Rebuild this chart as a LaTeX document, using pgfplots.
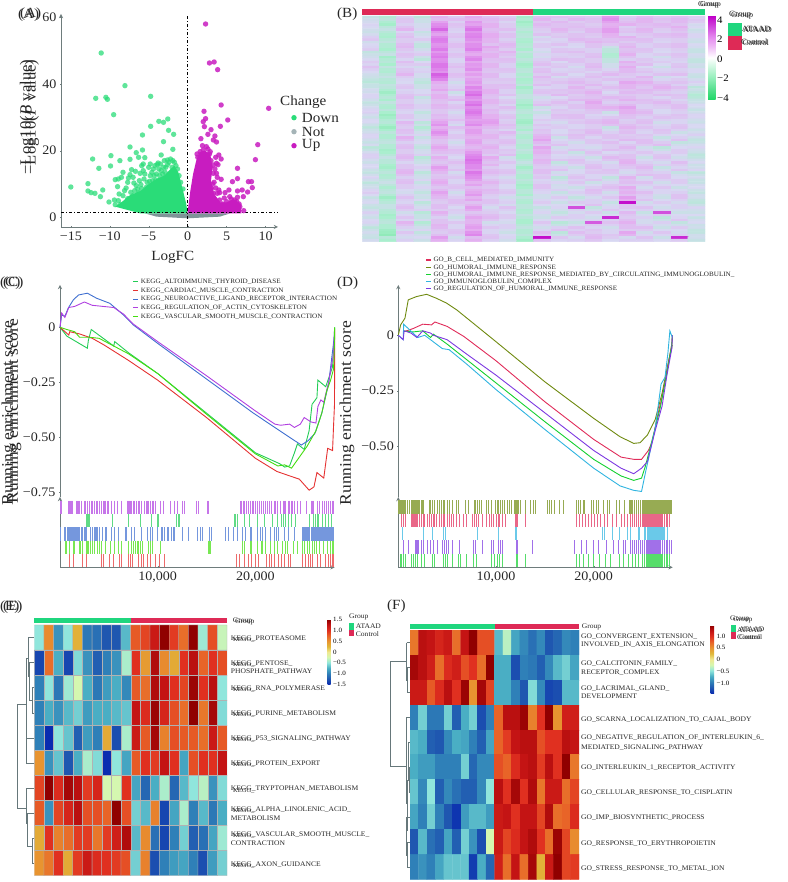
\documentclass[border=0pt]{standalone}
\usepackage{fontspec}
\setmainfont[FakeStretch=1.08]{Liberation Serif}
\usepackage{pgfplots}
\pgfplotsset{compat=1.18}
\newcommand\fs[1]{\fontsize{#1}{#1}\selectfont}
\definecolor{vgreen}{HTML}{2ADC78}
\definecolor{vmag}{HTML}{C81CC0}
\definecolor{vgrey}{HTML}{7F9498}
\definecolor{annG}{HTML}{1FD67E}
\definecolor{annR}{HTML}{DE2A56}
\definecolor{axgrey}{HTML}{6E7C7C}
\definecolor{gridc}{HTML}{DCE7EA}
\definecolor{dend}{HTML}{66777A}
\definecolor{cGr}{HTML}{22CC55}
\definecolor{cRd}{HTML}{E53232}
\definecolor{cBl}{HTML}{3F6FD0}
\definecolor{cPu}{HTML}{B040E0}
\definecolor{cYg}{HTML}{44DD10}
\definecolor{dOl}{HTML}{6F8A10}
\definecolor{dRd}{HTML}{E02C5A}
\definecolor{dGr}{HTML}{14D030}
\definecolor{dCy}{HTML}{30B4E0}
\definecolor{dPu}{HTML}{7C38E0}
\pgfplotsset{
 colormap={hot}{rgb255=(10,44,176) rgb255=(31,87,176) rgb255=(47,128,184) rgb255=(74,174,196) rgb255=(144,230,220) rgb255=(213,247,176) rgb255=(240,232,144) rgb255=(224,184,58) rgb255=(232,148,48) rgb255=(232,100,40) rgb255=(224,48,32) rgb255=(196,20,20) rgb255=(144,0,0)},
 colormap={bcell}{rgb255=(32,216,104) rgb255=(80,224,136) rgb255=(120,230,164) rgb255=(170,238,206) rgb255=(216,216,242) rgb255=(228,172,240) rgb255=(220,124,234) rgb255=(206,70,218) rgb255=(192,0,200)},
 colormap={bbar}{rgb255=(32,216,104) rgb255=(88,224,144) rgb255=(144,238,184) rgb255=(200,246,220) rgb255=(255,255,255) rgb255=(240,192,246) rgb255=(228,136,238) rgb255=(208,72,220) rgb255=(192,0,200)},
 pan/.style={scale only axis,anchor=south west,axis line style={-,draw=axgrey,line width=.9pt},
   tick style={draw=axgrey},tick align=outside,major tick length=2pt,
   ticklabel style={font=\fs{13},text=black!85},clip=false},
 heat/.style={scale only axis,anchor=south west,hide axis,y dir=reverse,xmin=-.5,xmax=19.5,ymin=-.5},
 cb/.style={scale only axis,anchor=south west,hide axis,xmin=0,xmax=1,ymin=0,ymax=1,colorbar},
}
\newcount\gcx \newcount\gcy
\newcommand\gridcoords[2]{\gcx=0 \gcy=0 \def\gc{}%
 \pgfplotsforeachungrouped \v in {#2}{\edef\gc{\gc(\the\gcx,\the\gcy)[\v]}\advance\gcx by 1 \ifnum\gcx=#1 \gcx=0 \advance\gcy by 1 \fi}}
\newcommand\rug[3]{\def\gc{}\pgfplotsforeachungrouped \v in {#3}{\edef\gc{\gc(\v,#2)}}%
 \edef\tmp{\noexpand\addplot[only marks,mark=|,mark size=6.7pt,mark options={draw=#1!72!white,line width=.85pt}] coordinates {\gc};}\tmp}
\newcommand\dn[1]{\addplot[dend,line width=.6pt] coordinates {#1};}
\newcommand\el[2]{\node[lab,font=\fs{7}] at (230.7,#1) {#2};}
\newcommand\ek[1]{\node[lab,font=\fs{6}] at (233,#1) {KEGG\_};}
\newcommand\fl[2]{\node[lab,font=\fs{7}] at (581,#1) {#2};}
\tikzset{lab/.style={anchor=west,inner sep=0pt,text=black!85},mid/.style={anchor=center,inner sep=0pt,text=black!85}}
\begin{document}
\begin{tikzpicture}
\useasboundingbox (0,0) rectangle (787pt,882pt);

% (A) volcano
\begin{axis}[pan,at={(61pt,655pt)},width=217pt,height=213pt,xmin=-16.26,xmax=11.6,ymin=-2.9,ymax=61,
  axis x line=bottom,axis y line=left,
  xtick={-15,-10,-5,0,5,10},xticklabels={−15,−10,−5,0,5,10},
  ytick={0,20,40,60},yticklabels={0,20,40,60}]
\addplot[fill=vgrey,draw=none] coordinates {(-5.5,1.2)(-4,.2)(0,-.3)(4.15,.2)(5.45,1.2)} --cycle;
\addplot[fill=vgreen,draw=none] coordinates {(0,1.2)(-6.1,1.2)(-9.3,3.2)(-8.5,4.5)(-7.5,6.5)(-6,8)(-5,10)(-4,11.5)(-3,12.5)(-2.2,14.5)(-1.7,15.5)(-1.2,13.5)(-.65,8.5)(-.2,4.2)} --cycle;
\addplot[fill=vmag,draw=none] coordinates {(0,1.7)(.35,8)(.7,13)(1.1,17)(1.5,19.5)(2.2,20)(2.9,19)(3.2,15)(3,11)(3.4,7)(4.2,4.5)(5,4.5)(5.9,5.5)(6.8,4)(6.9,1.2)(0,1.2)} --cycle;
\addplot[vgreen,only marks,mark=*,mark size=2.7pt,mark options={draw opacity=0,fill=vgreen,fill opacity=.75}] coordinates {
(-11.1,49.3)(-8.05,39.5)(-11.8,35.7)(-10.5,36)(-10.3,35.4)(-4.75,36.3)(-9.5,30.8)(-2.55,29.5)(-3.7,28.8)(-3.1,28.5)(-4.75,27.3)(-2.45,26.1)(-5.8,24.7)(-1.8,24.9)(-3.1,22.7)(-7.4,21.1)(-5.8,20.2)(-1.9,20.4)(-6.6,19.4)(-12.2,17.5)(-9.85,18.5)(-8.7,17)(-7.4,17.4)(-5.5,17.9)(-6.3,18)(-3.4,18.7)
(-8.9,11.5)(-8.3,13.5)(-7.7,10.5)(-7,12)(-6.6,9.5)(-6.2,11)(-5.5,13)(-5.2,10.5)(-5,15)(-4.8,12.5)(-4.5,11)(-4.2,15.5)(-4,13)(-3.7,14.5)(-3.5,16)(-3.2,13)(-3,17)(-2.8,15)(-2.4,16.5)(-1.9,17)(-1.5,15.5)(-6.8,8)(-7.3,7.5)(-8.3,6.5)(-7.9,8.8)(-5.7,16)(-5.9,15.5)(-6.7,13.8)(-7.2,14.3)(-8.5,12)(-9.3,11.3)(-9,9.2)(-8.8,7)(-9.4,5.2)(-10.1,4.6)(-10.9,8.2)(-11.2,6.2)(-11.9,7.2)(-12.4,7.4)(-12.8,7.9)(-12.8,10.1)(-15,9.1)(-11.4,14.7)(-9.9,15.4)(-6.5,5)(-4.4,9.8)(-3.8,8.5)(-3.3,10.5)(-2.3,11.5)(-5.9,8.6)
(-6.9,10.3)(-6.4,8.5)(-6,9.8)(-5.6,11.5)(-5.3,9)(-4.9,10.8)(-4.6,13.5)(-4.3,12.5)(-4.1,11.2)(-3.9,15.8)(-3.6,12.5)(-3.4,14)(-3.1,15)(-2.9,13.5)(-2.6,15.8)(-2.2,17.5)(-2,15)(-1.7,16.5)(-1.3,14.5)(-7.6,11.8)(-6.1,13.2)(-5.7,14)(-8.1,8)(-7,6.5)(-8.9,5)(-9.3,3.8)(-4.8,16)(-4.4,14.5)(-3,11.8)(-5,7.8)(-5.9,6.9)(-6.3,7.3)(-7.7,5.6)(-8.6,3.9)(-7.4,12.8)(-3.8,16.3)(-2.6,17.2)(-1.1,12.5)(-.9,10.5)(-.6,8.5)};
\addplot[vmag,only marks,mark=*,mark size=2.7pt,mark options={draw opacity=0,fill=vmag,fill opacity=.85}] coordinates {
(2.3,58)(2.8,46.3)(3.4,46.6)(3.85,44.3)(4.3,33.7)(10.4,32.7)(2.1,31.8)(5.15,29.2)(2.3,29.6)(2,28.7)(2.15,27.2)(4.2,27.3)(3,26.3)(2.6,24.9)(3.5,24.4)(1.7,23.6)(3.3,23.2)(3.7,22.6)(9,21.8)(2.4,21.2)(2,20.2)(1.6,19.7)(2.9,19.7)(4,18.7)(4.3,17.5)(8.7,17.3)(6.4,14.7)(3.3,15.7)(3.7,16.2)(3.3,13.2)(3.7,13.2)(4.3,11.4)(5.75,10.7)(6.4,11.6)(7.8,10.7)(8.2,10.7)(8.3,8.9)(7,8.2)(7.7,7.6)(6.4,7.9)(5.3,8.2)(4.8,7.4)(7.15,6.2)(4,8.2)(3.8,7.2)(3.3,7.2)(5.4,6.2)(6,5.2)(5,4.7)(4.1,5.2)(3.3,5.2)(3.2,10)(2.9,15)(2.5,11)(3.05,8.7)(2.8,19)(1.2,19)(6.4,6)(6.6,4)(5.7,3.5)(4.5,4)
(1.5,15)(2,18)(2.6,20.5)(3.6,18)(3.9,15.8)(3.4,10.5)(3.6,8.8)(4.1,7.4)(4.7,5.8)(5.6,5.5)(6.3,4.7)(6.7,3.2)(5.2,3.5)(4.4,3)(7.2,2)(3.8,12)(3.5,14.5)(3,17)(1.9,21.5)(1.3,18)};
\addplot[black,line width=1pt,dash dot] coordinates {(0,-2.9)(0,61)};
\addplot[black,line width=1pt,dash dot] coordinates {(-16.26,1.3)(11.6,1.3)};
\end{axis}

% (B) heatmap
\gridcoords{20}{
-4,-8,2,-6,8,3,10,5,2,-11,6,5,4,3,14,2,6,3,5,2,
-2,-6,4,-3,6,6,8,7,4,-9,8,3,7,5,16,4,8,5,7,4,
-1,-9,4,-3,12,2,14,6,1,-12,4,7,3,5,12,6,8,4,7,3,
1,-11,2,-1,16,5,12,9,3,-10,7,5,5,3,9,9,6,7,5,-1,
0,-6,5,-1,18,4,17,9,3,-8,5,5,6,4,10,2,5,6,9,0,
-2,-4,8,1,24,2,21,6,6,-6,3,8,4,7,13,4,8,3,6,-3,
-3,-7,1,-4,15,1,15,7,2,-9,2,6,2,7,13,5,7,2,4,-2,
-1,-9,4,-2,12,4,18,10,5,-7,5,3,5,4,9,2,4,6,7,1,
2,-10,6,0,17,5,19,10,5,-6,-1,4,5,3,8,9,3,5,6,1,
4,-7,3,3,20,2,16,8,2,-9,2,1,7,6,5,6,6,2,3,-2,
-2,-5,3,-2,19,3,13,8,4,-10,0,2,4,8,6,3,5,1,3,-3,
0,-8,6,-5,15,6,16,5,7,-8,3,5,1,5,3,6,2,4,6,0,
1,-8,7,-5,16,6,16,11,6,-7,3,1,0,5,-3,8,2,4,6,-1,
3,-10,4,-2,20,3,19,8,3,-10,0,4,3,2,-6,5,5,1,3,-4,
-5,-6,2,1,14,2,12,6,8,-5,-2,5,6,2,-6,6,4,0,2,-4,
-3,-4,5,3,18,5,10,9,5,-8,1,2,3,5,-9,9,1,3,5,-1,
-2,-11,4,-3,20,4,15,9,3,-9,-1,3,2,6,-8,5,1,-2,4,-2,
0,-8,1,-6,16,1,18,6,6,-6,2,6,5,3,-5,2,4,1,2,-5,
3,-7,6,0,17,1,11,5,5,-8,4,0,5,3,-5,9,3,3,1,-5,
1,-10,3,3,21,4,14,8,2,-11,6,3,2,6,-2,6,6,0,4,-2,
5,-5,1,-2,21,6,13,8,2,-10,2,4,-1,7,-2,10,0,-3,5,-3,
2,-8,4,1,18,3,16,5,5,-7,5,1,2,4,1,7,3,1,2,0,
0,-9,5,2,15,3,10,4,4,-6,6,2,3,1,4,7,5,2,3,0,
-2,-6,8,-1,25,6,13,7,1,-9,3,5,0,4,7,4,2,5,6,-3,
-3,-4,3,-1,22,5,9,7,1,-7,7,-1,2,6,2,3,8,-2,0,-4,
-5,-7,1,-4,18,2,12,4,4,-10,4,3,5,3,5,6,5,1,3,-1,
-7,-8,0,-6,10,-2,14,3,3,-9,3,5,7,4,1,11,9,4,5,2,
-4,-5,3,-3,7,1,11,6,6,-6,6,2,4,7,3,8,6,7,2,-1,
-4,-6,4,-3,8,2,18,6,5,-11,1,2,8,3,6,8,4,9,6,-6,
-1,-9,1,0,11,5,15,9,2,-8,4,5,5,6,3,5,7,6,3,-3,
-2,-12,2,0,6,-3,20,9,2,-8,5,4,6,9,0,7,6,3,2,-5,
1,-9,5,3,9,0,23,6,5,-5,2,7,3,6,3,4,3,6,5,-8,
1,-7,6,-4,9,4,17,5,0,-5,-2,0,4,5,7,6,3,1,4,-7,
-2,-10,3,-1,6,7,14,8,3,-8,1,3,7,8,4,9,6,4,1,-4,
-5,-5,3,-1,5,1,19,8,4,-9,3,6,2,11,2,4,5,7,3,-3,
-3,-8,6,2,8,4,22,5,1,-12,6,3,5,8,5,7,2,4,6,0,
-1,-9,5,2,7,5,16,4,6,-10,-3,1,5,8,9,12,2,3,6,-1,
1,-6,2,-1,4,2,19,7,3,-7,0,4,2,5,6,9,5,0,3,-4,
2,-10,1,-5,4,-1,21,6,1,-6,-4,3,3,4,-3,9,7,0,2,-2,
-1,-13,4,-2,7,2,18,9,4,-9,-1,6,6,1,0,6,4,3,5,1,
-3,-11,4,-2,6,3,15,9,5,-8,0,5,6,2,4,5,2,5,4,1,
0,-8,1,1,9,6,12,12,2,-11,3,2,3,5,7,2,5,2,1,-2,
0,-7,7,-6,12,2,14,13,3,-12,1,-1,4,6,8,3,6,-2,1,-3,
-3,-10,4,-3,15,-1,17,10,6,-9,4,2,1,3,5,6,3,1,4,0,
-6,-13,3,-8,9,6,10,7,4,-7,2,3,1,3,-4,8,5,2,5,0,
-3,-10,6,-5,12,3,13,4,1,-10,5,0,4,6,-1,5,2,5,2,-3,
-2,-6,5,-2,16,1,13,5,7,-5,4,0,3,7,2,6,1,4,-3,-1,
1,-9,2,1,13,4,10,8,4,-8,7,3,6,4,5,3,4,1,0,2,
1,-9,9,-4,8,4,8,8,2,-9,9,-3,5,1,5,4,3,-4,2,-2,
-2,-6,6,-1,5,1,11,5,5,-6,12,0,2,4,2,7,6,-1,5,-5,
-4,-5,2,0,5,-2,12,4,6,-6,7,2,-2,4,6,1,6,3,-5,-4,
-1,-8,5,-3,8,1,9,7,3,-9,4,5,1,1,3,4,3,6,-2,-1,
-7,-8,6,-5,11,3,7,9,1,-8,11,-2,1,-1,3,7,-2,-6,0,1,
-4,-11,3,-2,8,6,10,6,4,-5,8,1,4,2,6,4,1,-3,3,-2,
-1,-10,3,-1,6,5,14,6,3,-7,9,3,-4,5,0,2,4,1,3,-3,
2,-7,6,2,3,2,17,3,6,-10,6,0,-1,2,3,5,1,4,0,-6,
2,-4,7,-7,9,0,19,10,-2,-10,5,1,2,-3,7,5,-3,5,-2,-5,
-1,-7,4,-4,6,3,22,7,1,-7,8,4,5,0,4,8,0,2,1,-2,
-3,-7,1,-3,4,6,20,5,4,-4,7,-5,4,2,-1,9,2,-1,6,0,
0,-10,4,0,7,3,17,8,1,-7,4,-2,1,5,2,6,5,2,3,-3,
0,-11,4,2,13,2,17,3,1,-11,3,2,-3,6,2,4,7,-4,1,-2,
-3,-8,7,-1,10,5,14,6,4,-8,6,5,0,3,5,1,4,-1,4,1,
-5,-6,8,-6,7,-1,21,7,5,-6,6,-2,0,4,4,-1,3,2,-4,-6,
-2,-9,5,-3,4,2,18,4,2,-9,3,1,3,1,1,2,6,5,-1,-3,
1,-8,2,-2,5,4,16,2,-1,-9,4,-6,5,1,-5,8,-2,5,0,-1,
-2,-5,5,1,8,1,13,5,2,-6,1,-3,2,4,-2,5,1,2,3,-4,
-6,-3,6,-4,10,1,9,8,3,-8,2,1,4,-3,1,6,5,-2,3,-4,
-3,-6,3,-1,7,4,12,5,0,-11,5,-2,1,0,4,3,2,1,0,-1,
-2,-9,3,1,4,5,6,4,0,-10,5,-1,-3,3,6,10,-1,4,-3,0,
1,-6,0,-2,7,2,9,7,3,-7,2,2,0,6,3,7,2,1,0,-3,
3,-5,-1,-5,12,-2,11,6,4,-7,1,-4,2,5,-2,9,6,1,2,-5,
0,-8,2,-2,9,1,14,3,1,-10,-2,-1,-1,2,1,6,3,-2,5,-2,
-4,-12,5,-3,7,3,8,2,-2,-5,-2,3,-5,-1,4,13,2,-3,5,-2,
-1,-9,2,0,4,6,11,5,1,-8,1,0,-2,2,1,10,5,0,2,-5,
0,-7,1,-6,3,6,5,5,2,-9,3,-3,3,2,-4,38,-2,3,-1,-6,
-3,-4,4,-3,6,3,8,2,-1,-6,0,0,0,5,-1,4,1,0,2,-3,
-5,-4,6,-1,6,0,13,-1,5,-6,-4,1,28,-5,1,4,5,-2,2,1,
-2,-7,3,2,3,3,10,2,2,-9,-1,-2,2,-2,4,1,2,1,-1,-2,
2,-8,-2,-7,9,2,4,3,0,-8,1,-5,-1,3,-3,7,-4,28,-3,-3,
-1,-11,1,-4,6,-1,7,6,3,-5,-2,-2,2,0,0,4,-1,3,0,0,
-3,-10,4,-4,2,-3,11,7,3,-7,-3,3,2,-2,34,3,2,-6,1,-4,
0,-7,1,-1,5,0,8,4,0,-10,0,0,-1,1,2,6,-1,-3,4,-1,
1,-6,8,-8,5,4,8,-2,-1,-10,4,-7,-4,26,5,9,-1,2,-5,0,
-2,-9,5,-5,8,1,11,1,2,-7,1,-4,-1,3,2,6,2,-1,-2,-3,
-6,-9,2,-2,7,1,13,4,2,-5,-2,2,5,1,-2,6,6,-3,3,-2,
-3,-12,-1,1,4,4,10,1,-1,-8,1,5,2,4,1,3,3,0,0,-5,
-1,-13,4,-5,3,5,15,1,-3,-8,6,-6,6,3,1,11,-2,4,-1,-5,
-3,-15,1,-2,6,2,18,4,0,-6,3,-3,3,6,4,8,1,1,2,-2,
-4,-7,-1,0,13,-2,6,5,1,-9,38,4,-1,7,3,-1,5,-3,34,-2,
-1,-10,2,-3,9,1,9,2,-2,-12,5,1,2,4,0,2,2,0,3,-4}
\begin{axis}[heat,at={(362.3pt,640.3pt)},width=342.7pt,height=225.7pt,ymax=89.5,colormap name=bcell,point meta min=-40,point meta max=40]
\edef\tmp{\noexpand\addplot[matrix plot*,mesh/cols=20,point meta=explicit] coordinates {\gc};}\tmp
\end{axis}
\begin{axis}[cb,at={(708pt,782.7pt)},width=7.7pt,height=83.3pt,colormap name=bbar,point meta min=-4.13,point meta max=4.43,
  colorbar style={at={(0,0)},anchor=south west,width=7.7pt,height=83.3pt,ytick={-4,-2,0,2,4},yticklabels={−4,−2,0,2,4},
  axis line style={draw=none},tick style={draw=none},yticklabel style={font=\fs{10},xshift=-2pt}}]
\addplot[draw=none] coordinates {(0,0)(1,1)};
\end{axis}

% (C) GSEA
\begin{axis}[pan,at={(60pt,385pt)},width=274.7pt,height=212pt,xmin=0,xmax=28.12,ymin=-.771,ymax=.1923,
  axis x line=none,axis y line=left,xtick={5,10,15,20,25},xmajorgrids,grid style={gridc,line width=.6pt},
  ytick={-.75,-.5,-.25,0},yticklabels={−0.75,−0.50,−0.25,0}]
\addplot[cGr,line width=.9pt] coordinates {(0,0)(.7,-.04)(2.8,-.095)(2.9,-.06)(3.2,-.01)(5.5,-.085)(5.6,-.065)(7,-.115)(10,-.21)(15,-.39)(20,-.57)(21.5,-.6)(22.5,-.62)(23,-.635)(23.5,-.63)(24,-.57)(24.3,-.53)(25,-.555)(25.5,-.47)(25.8,-.35)(26.3,-.32)(26.4,-.24)(27.2,-.27)(27.9,-.18)(28.12,0)};
\addplot[cRd,line width=.9pt] coordinates {(0,0)(.9,-.035)(1,-.02)(2,-.03)(3.3,-.05)(4.5,-.08)(7,-.15)(10,-.24)(15,-.41)(20,-.595)(22.2,-.655)(23.5,-.675)(24.5,-.69)(25.5,-.74)(26,-.725)(26.3,-.66)(27,-.685)(27.4,-.55)(27.9,-.56)(28,-.45)(28.1,-.35)(28.12,-.01)};
\addplot[cBl,line width=.9pt] coordinates {(0,0)(.17,.056)(.5,.05)(.85,.088)(1.37,.125)(1.9,.147)(2.8,.155)(3.75,.132)(5.1,.109)(6.5,.056)(7.5,.011)(10,-.073)(15,-.235)(19.8,-.39)(22.9,-.482)(24.7,-.535)(25.4,-.515)(26.1,-.482)(26.8,-.39)(27.5,-.255)(28.1,-.035)};
\addplot[cPu,line width=.9pt] coordinates {(0,0)(.17,.065)(.5,.045)(.9,.09)(1.5,.095)(2.5,.115)(3.3,.1)(5.5,.09)(6.5,.06)(7.5,.015)(10,-.065)(15,-.22)(20,-.38)(22,-.44)(22.6,-.445)(23.5,-.44)(24,-.455)(24.6,-.44)(25,-.41)(25.7,-.43)(26.2,-.435)(26.4,-.36)(26.7,-.33)(27,-.34)(27.5,-.25)(28,-.12)(28.1,-.01)};
\addplot[cYg,line width=.9pt] coordinates {(0,0)(.7,-.01)(1.5,-.02)(2,-.045)(3,-.045)(4,-.05)(5.5,-.085)(7,-.12)(10,-.21)(15,-.395)(20,-.575)(22.3,-.63)(23,-.625)(23.7,-.64)(24.5,-.59)(25.3,-.54)(26.2,-.47)(26.8,-.39)(27.3,-.29)(27.7,-.24)(28,-.19)(28.1,-.07)(28.12,0)};
\end{axis}
\begin{axis}[pan,at={(60pt,314.7pt)},width=274.7pt,height=70.3pt,xmin=0,xmax=28.12,ymin=0,ymax=5.28,
  axis x line=bottom,axis y line=left,ytick=\empty,xtick={10,20},xticklabels={{10,000},{20,000}}]
\rug{cPu}{4.5}{0,.1,.85,.95,1.05,1.15,1.3,1.65,1.75,1.85,2.0,2.2,2.5,2.6,2.85,3.05,3.2,3.35,3.5,3.7,3.85,4,4.2,4.4,4.55,4.7,4.85,5,5.3,5.6,5.9,6.3,6.9,7.0,7.1,7.2,7.3,7.5,7.65,7.8,8,8.15,8.3,8.6,8.8,8.95,9.1,9.3,9.45,9.6,9.75,10.3,10.6,11.3,11.7,12,12.5,12.7,14,14.2,15.1,15.2,18.5,18.6,18.8,18.9,19.1,19.3,19.5,19.7,19.85,20,20.2,20.4,20.6,20.8,21,21.2,21.4,21.6,21.9,22.1,22.3,22.6,22.9,23,23.1,23.4,23.5,23.7,23.8,24,24.3,24.6,25.2,25.7,25.8,25.95,26.3,26.6,26.9,27.1,27.3,27.5,27.7,27.9,28}
\rug{cGr}{3.5}{2.7,2.8,2.9,3.0,5.4,7.0,8.2,9.4,10.0,10.1,11.9,12.1,12.2,17.9,18,18.2,18.9,19.4,20.2,20.9,21.7,22.3,22.7,22.9,23.1,23.4,23.7,24.1,25.5,25.9,26.1,26.3,26.5,26.9,27.2,27.5,27.8}
\rug{cBl}{2.5}{0,.05,.5,.6,.75,.85,.95,1.05,1.15,1.3,1.4,1.5,1.6,1.7,1.8,1.9,2,2.15,2.3,2.45,2.6,2.75,3.1,3.3,3.5,3.6,3.7,3.85,4,4.3,4.6,4.8,5.3,5.55,6,6.7,6.85,7.3,7.6,8.3,8.9,9.3,9.5,10,10.4,10.5,10.7,11,11.1,11.4,11.6,11.75,12.5,13.1,14.1,14.4,14.6,15.3,15.45,16.9,17.2,17.8,18.2,18.7,19,19.5,19.6,20.2,20.5,20.7,21,21.5,21.9,22.2,22.4,23,23.4,24,24.8,24.9,25,25.1,25.2,25.3,25.45,25.55,25.7,25.8,25.9,26,26.1,26.2,26.3,26.4,26.5,26.6,26.7,26.8,26.9,27,27.1,27.2,27.3,27.4,27.5,27.6,27.7,27.8,27.9,28}
\rug{cYg}{1.5}{.6,.65,1.0,1.4,1.5,2.0,2.1,2.3,2.7,2.75,2.8,2.9,3.1,3.3,3.5,3.8,4.0,4.2,4.6,5.2,5.6,6.0,6.3,7,7.3,7.5,7.7,7.9,8,8.2,8.4,9.1,9.3,9.5,10.3,15.2,15.3,15.4,18.7,18.9,19.5,19.6,20.2,20.6,20.7,21,21.5,22,22.3,22.8,23.1,23.3,23.9,24.3,24.8,25,25.3,25.5,25.8,26,26.2,26.6,27,27.4,27.7,27.9,28}
\rug{cRd}{.5}{.95,1.4,2.3,2.7,4.2,4.4,5.1,5.5,6.1,6.3,7.0,7.2,7.4,8.0,8.3,8.5,8.9,9.0,9.3,9.8,10.2,10.7,18.1,18.4,18.9,19.3,19.6,20,20.3,21.1,21.4,21.6,22,22.4,22.7,23,23.4,23.6,24.8,25.1,25.4,25.6,25.8,26.3,26.7,27.2,27.5,27.7,27.9,28}
\end{axis}

% (D) GSEA
\begin{axis}[pan,at={(398.3pt,385pt)},width=274.4pt,height=212pt,xmin=0,xmax=28.09,ymin=-.73,ymax=.227,
  axis x line=none,axis y line=left,xtick={5,10,15,20,25},xmajorgrids,grid style={gridc,line width=.6pt},
  ytick={-.5,-.25,0},yticklabels={−0.50,−0.25,0}]
\addplot[dOl,line width=.9pt] coordinates {(0,0)(.24,.047)(.68,.077)(1.02,.16)(1.88,.175)(2.9,.185)(3.9,.167)(4.95,.145)(6,.114)(10,-.029)(15,-.21)(20,-.375)(22.7,-.458)(24.1,-.488)(24.75,-.485)(25.5,-.45)(26.3,-.38)(27,-.262)(27.7,-.11)(28.05,-.044)};
\addplot[dRd,line width=.9pt] coordinates {(.5,.015)(1.5,.03)(2.5,.05)(3.4,.047)(3.75,.06)(5,.04)(6.7,-.005)(10,-.115)(15,-.3)(20,-.47)(22.8,-.55)(24.1,-.56)(24.9,-.56)(25.6,-.52)(26,-.48)(26.5,-.37)(27,-.28)(27.5,-.16)(28,-.04)(28.05,-.01)};
\addplot[dGr,line width=.9pt] coordinates {(.5,.02)(1.5,.015)(2.5,.02)(3.3,-.01)(3.6,.005)(5,-.04)(7,-.11)(10,-.215)(15,-.39)(20,-.56)(22.8,-.635)(24.1,-.655)(24.9,-.645)(25.3,-.59)(26,-.47)(26.8,-.33)(27.5,-.17)(28,-.04)(28.05,0)};
\addplot[dCy,line width=.9pt] coordinates {(0,0)(.5,-.02)(.55,.05)(1.5,.01)(2,-.01)(2.7,0)(3.3,-.02)(4.5,-.06)(5.2,-.065)(7,-.13)(10,-.245)(15,-.425)(20,-.6)(22.7,-.68)(24.1,-.7)(24.9,-.705)(25.3,-.62)(25.6,-.56)(26.3,-.42)(26.9,-.22)(27.3,-.19)(27.6,-.08)(27.8,.02)(28.05,-.01)};
\addplot[dPu,line width=.9pt] coordinates {(0,0)(.5,-.02)(.6,.02)(1.3,.01)(1.9,-.01)(2.5,.02)(3.3,.01)(3.6,0)(5,-.02)(7,-.085)(10,-.18)(15,-.35)(20,-.52)(22.8,-.6)(24.1,-.625)(24.9,-.6)(25.5,-.57)(26.3,-.43)(27,-.32)(27.5,-.18)(28,-.06)(28.05,0)};
\end{axis}
\begin{axis}[pan,at={(398.3pt,314.7pt)},width=274.4pt,height=70.3pt,xmin=0,xmax=28.09,ymin=0,ymax=5.23,
  axis x line=bottom,axis y line=left,ytick=\empty,xtick={10,20},xticklabels={{10,000},{20,000}}]
\rug{dOl}{4.5}{0,.1,.2,.3,.4,.5,.6,.75,.9,1.1,1.35,1.45,1.55,1.7,1.8,1.9,2,2.1,2.2,2.35,2.5,2.6,3.2,3.3,3.5,3.7,4,4.2,4.4,4.6,4.75,5,5.2,5.5,6,6.2,6.9,7.2,7.75,7.9,8.1,8.3,8.5,9,9.2,9.5,9.9,10.1,10.3,10.5,10.7,10.9,11.2,11.4,11.6,11.9,12,12.1,12.2,12.3,12.5,13,13.5,13.8,14,15.3,15.5,15.7,16,16.5,16.9,18.2,18.4,18.6,18.9,19.1,19.8,20,20.3,20.5,21,21.4,21.6,22.3,22.6,23.1,23.7,23.8,23.9,24,24.2,24.4,24.6,24.8,25,25.1,25.2,25.3,25.4,25.5,25.6,25.7,25.8,25.9,26,26.1,26.2,26.3,26.4,26.5,26.6,26.7,26.8,26.9,27,27.1,27.2,27.3,27.4,27.5,27.6,27.7,27.8,27.9,28}
\rug{dRd}{3.5}{.35,.55,.7,1.3,1.45,1.5,1.6,1.75,1.85,2,2.15,2.35,2.6,2.7,3,3.2,3.4,3.55,3.7,3.9,4.2,4.4,4.6,4.75,5,5.2,5.4,5.6,6,6.3,6.7,7,7.6,7.8,8,8.2,8.6,9,9.3,9.5,9.7,10,10.2,10.4,10.7,11,12,12.1,12.2,13,18.2,18.5,18.8,19.2,19.5,19.8,20.1,20.4,20.7,21.1,21.4,21.9,22.3,22.8,23.1,23.5,23.8,24,24.2,24.4,24.6,24.8,25,25.1,25.2,25.3,25.4,25.5,25.6,25.7,25.8,25.9,26,26.1,26.2,26.3,26.4,26.5,26.6,26.7,26.8,26.9,27,27.2,27.4,27.6,27.8}
\rug{dCy}{2.5}{.4,2.6,3.5,4.6,4.8,8.1,10.2,12.0,12.1,20.9,21.1,21.9,22.6,23.5,23.8,24.6,24.7,25.2,25.3,25.5,25.6,25.7,25.8,25.9,26,26.1,26.2,26.3,26.4,26.5,26.6,26.7,26.8,26.9,27,27.1,27.2,27.6}
\rug{dPu}{1.5}{.5,1.0,1.75,1.85,2,2.1,2.35,2.6,3,3.3,3.6,4,4.5,4.7,4.9,5.1,5.5,6.3,7.7,7.9,8.6,9.5,9.7,10.2,10.5,10.7,12.05,12.15,13.7,18,18.7,19.3,20,20.5,21.3,22,22.5,23,23.2,23.8,24,24.2,24.4,24.6,24.8,25,25.2,25.4,25.5,25.6,25.7,25.8,25.9,26,26.1,26.2,26.3,26.4,26.5,26.6,26.7,26.8,27,27.2,27.4,27.6,27.8,28}
\rug{dGr}{.5}{.2,.35,.55,.75,1.3,1.5,1.8,2.0,2.4,2.7,3.5,3.7,4.6,4.8,5,5.5,6.2,6.4,7,7.7,8,9.5,9.8,10.1,10.4,10.7,12.05,12.15,13,18.2,18.5,19,19.5,20,20.6,21.2,21.7,22.6,23,23.6,24,24.3,24.6,25,25.2,25.4,25.5,25.6,25.7,25.8,25.9,26,26.1,26.2,26.3,26.4,26.5,26.6,26.7,26.8,26.9,27,27.2,27.4,27.6,27.8}
\end{axis}

% (E) pathway heatmap
\gridcoords{20}{
-.5,.55,-.9,-.5,.3,-1.05,-1.1,-1.25,-1.25,-.7,.8,.9,1.2,1.5,.95,.7,1.5,-.45,.85,-.3,
-1.35,.7,-.75,-1.35,-.55,-.9,-1.2,-1,-.9,-.4,1,.45,1.35,.55,.35,1,1.3,.75,1,.85,
-1,-.5,-1.05,-.45,-.25,-.75,-1.05,-.85,-.75,-.95,.8,.7,1.35,1.25,1,.9,1.45,1,1.3,-.5,
-1,-.75,-.9,-.7,-.6,-.85,-.75,-.75,-.7,-.65,1.25,1.05,1.45,1.1,.85,.7,1.5,.65,1.4,-.55,
-1,-1.55,-.5,-.65,-1.2,-.85,-1,.35,-1.3,-.4,1.2,.8,1.4,.6,.85,.8,.8,.7,1.2,.8,
.5,-.9,-.65,-1.25,-.75,-.4,-.55,-1.6,-.5,-.8,.8,1,.95,1.25,1,-.8,.85,1,1,1.25,
.9,1.55,1.05,1.4,1.3,.95,1.1,-.25,-.25,1,-.8,-1.15,-.75,-.4,-1.15,-.7,-.5,-.35,-.9,-.55,
.8,-.9,.9,1.1,1.3,.85,.85,.75,1.55,.85,-.6,-.7,.6,-1.35,-.8,-.4,-1,-.7,-1.05,-.75,
.35,1,.6,.7,.95,.95,.65,.95,1.15,1.35,-.7,.55,-1.1,-1.35,-1,-.6,-1.2,-1.1,-.8,-.45,
.5,.65,1,.35,.95,1.2,1.05,1,.95,.85,-.6,.6,-1.3,-1,-.85,-.8,-1,-1.3,-.85,-.6}
\begin{axis}[heat,at={(34.3pt,6.3pt)},width=192.7pt,height=250.7pt,ymax=9.5,colormap name=hot,point meta min=-1.5,point meta max=1.5]
\edef\tmp{\noexpand\addplot[matrix plot,mesh/cols=20,point meta=explicit,draw=gray!60,line width=.3pt] coordinates {\gc};}\tmp
\end{axis}
\begin{axis}[cb,at={(327.7pt,197.7pt)},width=3pt,height=64.6pt,colormap name=hot,point meta min=-1.5,point meta max=1.5,
  colorbar style={at={(0,0)},anchor=south west,width=3pt,height=64.6pt,ytick={-1.5,-1,-.5,0,.5,1,1.5},yticklabels={−1.5,−1.0,−0.5,0,0.5,1.0,1.5},
  axis line style={draw=none},tick style={draw=none},yticklabel style={font=\fs{6.5},xshift=-1pt}}]
\addplot[draw=none] coordinates {(0,0)(1,1)};
\end{axis}

% (F) GO heatmap
\gridcoords{20}{
.65,1.3,1.25,1.1,1.2,.7,1.25,1.55,.85,.85,-.7,-.35,-.8,-.95,-1.1,-.95,-1.25,-1.15,-.95,-1,
1.4,1.3,1.15,.7,1.05,1.15,.85,1,.7,1.5,-.75,-.75,-1.3,-1,-1.05,-1.2,-.95,-.7,-.6,-.8,
1.2,1.2,.8,1.05,1.3,1,1.45,.5,1.4,.9,-.75,-.75,-1,-1.25,-.55,-.95,-1.35,-1.3,-.7,-.7,
-1,-.6,-1.05,-1.05,-.6,-1.2,-.75,-.6,-1.3,-1,.75,1.3,1.3,1.45,.6,1,1.5,.5,1.15,1.15,
-.7,-.75,-1.2,-1.25,-.95,-.75,-.8,-1,-1.2,-.8,.75,.95,1.25,1.3,1.3,.85,1,1,1.3,1.25,
-.75,-.85,-.85,-1,-1,-1,-.6,-1.15,-.95,-.95,.85,.75,1.05,1.25,1.3,.95,1.3,1,1.55,.65,
-.65,-.95,-.5,-1.2,-.95,-1.1,-1.2,-1.2,-.95,-.5,1.3,1,1.4,1,1.35,.65,1.2,1.2,.7,.9,
-.8,-1,-.6,-1,-1.25,-1.45,-.85,-.7,-.7,-.85,1.2,1.25,1,1.25,1.25,.9,1.35,.7,.75,1.05,
-1.25,-.7,-1.1,-1.2,-.8,-1.2,-.6,-.9,-1.3,-.25,1.2,.9,1.05,1.25,1.35,1,.7,1.45,.9,.55,
-1,-.9,-1,-.8,-.65,-.65,-.65,-1.4,-.75,-1.15,1.15,.7,1.25,.7,1.4,.3,1.2,1.5,.9,.95}
\begin{axis}[heat,at={(410pt,2.7pt)},width=169pt,height=249.3pt,ymax=9.5,colormap name=hot,point meta min=-1.5,point meta max=1.5]
\edef\tmp{\noexpand\addplot[matrix plot*,mesh/cols=20,point meta=explicit] coordinates {\gc};}\tmp
\end{axis}
\begin{axis}[cb,at={(710.7pt,188.7pt)},width=3.3pt,height=68pt,colormap name=hot,point meta min=-1.43,point meta max=1.45,
  colorbar style={at={(0,0)},anchor=south west,width=3.3pt,height=68pt,ytick={-1,-.5,0,.5,1},yticklabels={−1.0,−0.5,0,0.5,1.0},
  axis line style={draw=none},tick style={draw=none},yticklabel style={font=\fs{6.5},xshift=-1pt}}]
\addplot[draw=none] coordinates {(0,0)(1,1)};
\end{axis}

% pixel overlay: bars, trees, legends, texts
\begin{axis}[scale only axis,at={(0,0)},anchor=south west,hide axis,width=787pt,height=882pt,xmin=0,xmax=787,ymin=0,ymax=882,y dir=reverse,clip=false]
\addplot[fill=annR,draw=none] coordinates {(362.3,9.3)(533.3,9.3)(533.3,15)(362.3,15)} --cycle;
\addplot[fill=annG,draw=none] coordinates {(533.3,9.3)(705,9.3)(705,15)(533.3,15)} --cycle;
\addplot[fill=annG,draw=none] coordinates {(728.3,23)(741.7,23)(741.7,36)(728.3,36)} --cycle;
\addplot[fill=annR,draw=none] coordinates {(728.3,36)(741.7,36)(741.7,50)(728.3,50)} --cycle;
\addplot[fill=annG,draw=none] coordinates {(34.3,618)(131,618)(131,623.3)(34.3,623.3)} --cycle;
\addplot[fill=annR,draw=none] coordinates {(131,618)(227,618)(227,623.3)(131,623.3)} --cycle;
\addplot[fill=annG,draw=none] coordinates {(410,624)(494.7,624)(494.7,628.7)(410,628.7)} --cycle;
\addplot[fill=annR,draw=none] coordinates {(494.7,624)(579,624)(579,628.7)(494.7,628.7)} --cycle;
\addplot[fill=annG,draw=none] coordinates {(349,622.7)(354,622.7)(354,629.5)(349,629.5)} --cycle;
\addplot[fill=annR,draw=none] coordinates {(349,629.5)(354,629.5)(354,636)(349,636)} --cycle;
\addplot[fill=annG,draw=none] coordinates {(730.7,625.3)(735.5,625.3)(735.5,632.3)(730.7,632.3)} --cycle;
\addplot[fill=annR,draw=none] coordinates {(730.7,632.3)(735.5,632.3)(735.5,639)(730.7,639)} --cycle;
% E tree
\dn{(17.3,704)(17.3,808.3)}
\dn{(17.3,704)(26.7,704)}
\dn{(17.3,808.3)(26,808.3)}
\dn{(26.7,658.3)(26.7,750)}
\dn{(26.7,737.8)(34.3,737.8)}
\dn{(34.3,762.9)(26.7,762.9)(26.7,750)}
\dn{(26.7,658.3)(28.7,658.3)(28.7,637.5)(34.3,637.5)}
\dn{(28.7,658.3)(28.7,676.7)(29.3,676.7)(29.3,662.6)(34.3,662.6)}
\dn{(29.3,676.7)(29.3,700)(32.3,700)(32.3,687.7)(34.3,687.7)}
\dn{(32.3,700)(32.3,712.8)(34.3,712.8)}
\dn{(26,788)(34.3,788)}
\dn{(26,788)(26,823.3)(27.3,823.3)(27.3,813.1)(34.3,813.1)}
\dn{(27.3,823.3)(27.3,846.7)(32.3,846.7)(32.3,838.1)(34.3,838.1)}
\dn{(32.3,846.7)(32.3,863.2)(34.3,863.2)}
% F tree
\dn{(406.7,661.7)(390,661.7)(390,766.7)(406,766.7)}
\dn{(406.7,642.7)(406.7,680)(407.3,680)(407.3,667.7)(410,667.7)}
\dn{(406.7,642.7)(410,642.7)}
\dn{(407.3,680)(407.3,692.7)(410,692.7)}
\dn{(406,717.7)(410,717.7)}
\dn{(406,717.7)(406,803.3)(407.3,803.3)}
\dn{(408.3,742.7)(410,742.7)}
\dn{(408.3,742.7)(408.3,780)(409,780)(409,767.7)(410,767.7)}
\dn{(409,780)(409,792.7)(410,792.7)}
\dn{(407.3,780)(407.3,830)(406.7,830)(406.7,817.7)(410,817.7)}
\dn{(406.7,830)(406.7,855)(407.3,855)(407.3,842.7)(410,842.7)}
\dn{(407.3,855)(407.3,867.7)(410,867.7)}
% A legend
\addplot[vgreen,only marks,mark=*,mark size=2.7pt,mark options={draw opacity=0,fill=vgreen}] coordinates {(294,117.7)};
\addplot[gray,only marks,mark=*,mark size=2.7pt,mark options={draw opacity=0,fill=vgrey!70!white}] coordinates {(294,131.7)};
\addplot[vmag,only marks,mark=*,mark size=2.7pt,mark options={draw opacity=0,fill=vmag}] coordinates {(294,145.7)};
% C, D legend keys
\addplot[cGr,line width=.9pt] coordinates {(133,281.7)(138,281.7)};
\addplot[cRd,line width=.9pt] coordinates {(133,290.3)(138,290.3)};
\addplot[cBl,line width=.9pt] coordinates {(133,299)(138,299)};
\addplot[cPu,line width=.9pt] coordinates {(133,307.7)(138,307.7)};
\addplot[cYg,line width=.9pt] coordinates {(133,316.7)(138,316.7)};
\addplot[dRd,line width=1.2pt] coordinates {(426,260)(430.7,260)};
\addplot[dOl,line width=1.2pt] coordinates {(426,267.3)(430.7,267.3)};
\addplot[dGr,line width=1.2pt] coordinates {(426,274.7)(430.7,274.7)};
\addplot[dCy,line width=1.2pt] coordinates {(426,281.3)(430.7,281.3)};
\addplot[dPu,line width=1.2pt] coordinates {(426,288.7)(430.7,288.7)};

\node[lab,font=\fs{14}] at (18,15) {(A)};
\node[lab,font=\fs{14}] at (20,14) {(A)};
\node[lab,font=\fs{14}] at (337,14) {(B)};
\node[lab,font=\fs{14}] at (0,283) {(C)};
\node[lab,font=\fs{14}] at (3,283) {(C)};
\node[lab,font=\fs{14}] at (337,283) {(D)};
\node[lab,font=\fs{14}] at (0,606.7) {(E)};
\node[lab,font=\fs{14}] at (3,606.7) {(E)};
\node[lab,font=\fs{14}] at (387,606) {(F)};

\node[mid,rotate=90,font=\fs{15.5}] at (27,117) {−Log10(\textit{P} value)};
\node[mid,rotate=90,font=\fs{15.5}] at (32,117) {−Log10(\textit{P} value)};
\node[mid,font=\fs{14}] at (172.7,257) {LogFC};
\node[lab,font=\fs{14}] at (280,101.7) {Change};
\node[lab,font=\fs{14}] at (301.7,117.7) {Down};
\node[lab,font=\fs{14}] at (301.7,131.7) {Not};
\node[lab,font=\fs{14}] at (301.7,145.7) {Up};

\node[lab,font=\fs{7.5}] at (698,4.5) {Group};
\node[lab,font=\fs{7.5}] at (700,5) {Group};
\node[lab,font=\fs{8}] at (729,15) {Group};
\node[lab,font=\fs{8}] at (731,15.5) {Group};
\node[lab,font=\fs{8}] at (741.7,29) {ATAAD};
\node[lab,font=\fs{8}] at (743,29.5) {ATAAD};
\node[lab,font=\fs{8}] at (741,42) {Control};
\node[lab,font=\fs{8}] at (742.5,42.5) {Control};

\node[mid,rotate=90,font=\fs{16.2}] at (9,413) {Running enrichment score};
\node[mid,rotate=90,font=\fs{16.2}] at (14,411) {Running enrichment score};
\node[mid,rotate=90,font=\fs{16.2}] at (347,413) {Running enrichment score};

\node[lab,font=\fs{6.6}] at (140.7,281.7) {KEGG\_ALTOIMMUNE\_THYROID\_DISEASE};
\node[lab,font=\fs{6.6}] at (140.7,290.3) {KEGG\_CARDIAC\_MUSCLE\_CONTRACTION};
\node[lab,font=\fs{6.6}] at (140.7,299) {KEGG\_NEUROACTIVE\_LIGAND\_RECEPTOR\_INTERACTION};
\node[lab,font=\fs{6.6}] at (140.7,307.7) {KEGG\_REGULATION\_OF\_ACTIN\_CYTOSKELETON};
\node[lab,font=\fs{6.6}] at (140.7,316.7) {KEGG\_VASCULAR\_SMOOTH\_MUSCLE\_CONTRACTION};
\node[lab,font=\fs{6.6}] at (433.3,260) {GO\_B\_CELL\_MEDIATED\_IMMUNITY};
\node[lab,font=\fs{6.6}] at (433.3,267.3) {GO\_HUMORAL\_IMMUNE\_RESPONSE};
\node[lab,font=\fs{6.6}] at (433.3,274.7) {GO\_HUMORAL\_IMMUNE\_RESPONSE\_MEDIATED\_BY\_CIRCULATING\_IMMUNOGLOBULIN\_};
\node[lab,font=\fs{6.6}] at (433.3,281.3) {GO\_IMMUNOGLOBULIN\_COMPLEX};
\node[lab,font=\fs{6.6}] at (433.3,288.7) {GO\_REGULATION\_OF\_HUMORAL\_IMMUNE\_RESPONSE};

\node[lab,font=\fs{7}] at (232.7,621.3) {Group};
\node[lab,font=\fs{7}] at (235,622.3) {Group};
\node[lab,font=\fs{7}] at (349,616.7) {Group};
\node[lab,font=\fs{7}] at (355.7,626) {ATAAD};
\node[lab,font=\fs{7}] at (355.7,633.7) {Control};
\el{638.3}{KEGG\_PROTEASOME}
\el{663.3}{KEGG\_PENTOSE\_}
\el{671.7}{PHOSPHATE\_PATHWAY}
\el{688.3}{KEGG\_RNA\_POLYMERASE}
\el{713.3}{KEGG\_PURINE\_METABOLISM}
\el{738.3}{KEGG\_P53\_SIGNALING\_PATHWAY}
\el{763.7}{KEGG\_PROTEIN\_EXPORT}
\el{789}{KEGG\_TRYPTOPHAN\_METABOLISM}
\el{809.7}{KEGG\_ALPHA\_LINOLENIC\_ACID\_}
\el{818}{METABOLISM}
\el{834.7}{KEGG\_VASCULAR\_SMOOTH\_MUSCLE\_}
\el{843.3}{CONTRACTION}
\el{864.3}{KEGG\_AXON\_GUIDANCE}
\ek{639.8}\ek{664.8}\ek{689.8}\ek{714.8}\ek{739.8}\ek{765.2}\ek{790.5}\ek{811.2}\ek{836.2}\ek{865.8}
\node[lab,font=\fs{7}] at (581.7,626.7) {Group};
\node[lab,font=\fs{7}] at (730,619.3) {Group};
\node[lab,font=\fs{7}] at (733,620) {Group};
\node[lab,font=\fs{7}] at (737,630) {ATAAD};
\node[lab,font=\fs{7}] at (739,629) {ATAAD};
\node[lab,font=\fs{7}] at (737,637) {Control};
\node[lab,font=\fs{7}] at (739,637.5) {Control};
\fl{636.7}{GO\_CONVERGENT\_EXTENSION\_}
\fl{645}{INVOLVED\_IN\_AXIS\_ELONGATION}
\fl{664}{GO\_CALCITONIN\_FAMILY\_}
\fl{672.3}{RECEPTOR\_COMPLEX}
\fl{688.3}{GO\_LACRIMAL\_GLAND\_}
\fl{696.7}{DEVELOPMENT}
\fl{719.3}{GO\_SCARNA\_LOCALIZATION\_TO\_CAJAL\_BODY}
\fl{738}{GO\_NEGATIVE\_REGULATION\_OF\_INTERLEUKIN\_6\_}
\fl{747.3}{MEDIATED\_SIGNALING\_PATHWAY}
\fl{767.3}{GO\_INTERLEUKIN\_1\_RECEPTOR\_ACTIVITY}
\fl{792.3}{GO\_CELLULAR\_RESPONSE\_TO\_CISPLATIN}
\fl{818}{GO\_IMP\_BIOSYNTHETIC\_PROCESS}
\fl{843.3}{GO\_RESPONSE\_TO\_ERYTHROPOIETIN}
\fl{868.7}{GO\_STRESS\_RESPONSE\_TO\_METAL\_ION}
\end{axis}
\end{tikzpicture}
\end{document}
